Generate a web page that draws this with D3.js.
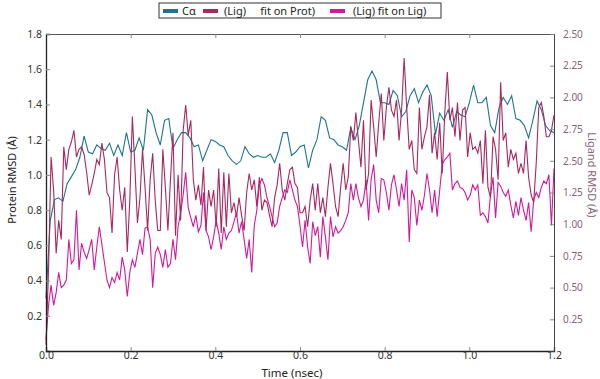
<!DOCTYPE html>
<html>
<head>
<meta charset="utf-8">
<title>RMSD</title>
<script src="https://cdn.jsdelivr.net/npm/d3@7"></script>
<style>
  body { margin: 0; background: #fff; }
  text { font-family: "Noto Sans", "Open Sans", sans-serif; }
</style>
</head>
<body>
<div id="container"></div>
<script>
// time step of each series (nsec)
const caStep = 0.01;
const ligStep = 0.006;

// Protein C-alpha RMSD (left axis)
const caRmsd = [0.30, 0.74, 0.86, 0.87, 0.85, 0.95, 0.99, 1.03, 1.10, 1.22, 1.13, 1.12, 1.17, 1.15, 1.14, 1.18, 1.11, 1.17, 1.11, 1.24,
  1.13, 1.14, 1.21, 1.14, 1.37, 1.34, 1.24, 1.17, 1.31, 1.32, 1.15, 1.20, 1.24, 1.24, 1.21, 1.16, 1.17, 1.08, 1.14, 1.20,
  1.19, 1.17, 1.16, 1.11, 1.08, 1.06, 1.08, 1.16, 1.12, 1.10, 1.11, 1.10, 1.10, 1.12, 1.07, 1.14, 1.24, 1.24, 1.11, 1.13,
  1.16, 1.17, 1.04, 1.14, 1.20, 1.33, 1.31, 1.21, 1.20, 1.17, 1.16, 1.14, 1.27, 1.20, 1.28, 1.41, 1.54, 1.59, 1.54, 1.41,
  1.41, 1.40, 1.48, 1.45, 1.33, 1.36, 1.45, 1.49, 1.41, 1.47, 1.51, 1.45, 1.23, 1.35, 1.31, 1.37, 1.27, 1.36, 1.34, 1.33,
  1.41, 1.51, 1.41, 1.41, 1.44, 1.28, 1.24, 1.38, 1.44, 1.40, 1.45, 1.32, 1.31, 1.28, 1.21, 1.31, 1.42, 1.37, 1.28, 1.25, 1.24];

// Ligand RMSD, fit on protein (right axis)
const ligFitProt = [0.05, 0.64, 1.53, 1.27, 0.77, 1.03, 0.88, 1.61, 1.43, 1.59, 1.65, 1.74, 1.53, 1.59, 1.61, 1.55, 1.41, 1.23, 1.31, 1.40,
  1.51, 1.47, 1.64, 1.51, 1.25, 1.21, 0.93, 1.39, 1.53, 1.27, 1.11, 1.29, 0.78, 1.19, 1.85, 1.45, 1.01, 1.21, 1.59, 1.29,
  0.95, 1.35, 1.56, 1.19, 0.95, 0.95, 1.59, 1.29, 0.95, 1.35, 1.72, 0.91, 1.39, 1.03, 1.74, 1.94, 1.70, 1.82, 1.35, 1.19,
  1.31, 1.15, 1.45, 0.95, 1.27, 1.14, 1.27, 0.98, 1.44, 0.93, 1.41, 0.98, 1.40, 1.09, 1.17, 1.06, 1.21, 1.07, 0.95, 1.25,
  1.40, 1.27, 1.35, 1.14, 1.37, 1.11, 1.19, 1.17, 1.07, 0.98, 1.21, 1.31, 1.48, 1.27, 1.19, 1.32, 1.43, 1.45, 1.32, 1.29,
  1.09, 1.09, 1.14, 0.98, 1.19, 1.32, 1.11, 1.32, 1.09, 1.21, 1.06, 1.29, 1.48, 1.32, 1.14, 1.06, 1.29, 1.48, 1.27, 1.37,
  1.77, 1.66, 1.88, 1.66, 1.45, 1.82, 1.27, 1.40, 1.98, 1.77, 1.53, 1.80, 2.03, 1.66, 1.92, 2.08, 1.90, 1.85, 1.98, 1.66,
  1.90, 2.31, 1.92, 1.59, 1.66, 1.43, 1.40, 1.92, 1.59, 1.69, 1.77, 2.02, 1.56, 1.72, 1.51, 1.80, 1.40, 1.88, 2.20, 1.82,
  1.92, 1.69, 1.96, 1.66, 1.90, 1.92, 1.53, 1.72, 1.59, 1.61, 1.56, 1.66, 1.32, 1.74, 1.29, 1.21, 1.69, 1.59, 1.35, 2.12,
  1.66, 1.72, 1.45, 1.59, 1.51, 1.56, 1.40, 1.48, 1.40, 1.66, 1.37, 1.23, 1.17, 1.48, 1.92, 1.96, 1.85, 1.69, 1.69, 1.74, 1.86];

// Ligand RMSD, fit on ligand (right axis)
const ligFitLig = [0.09, 0.36, 0.52, 0.36, 0.46, 0.62, 0.50, 0.52, 0.56, 0.88, 0.69, 0.72, 1.11, 0.64, 0.85, 0.78, 0.73, 0.80, 0.88, 0.64,
  0.82, 0.98, 0.84, 0.70, 0.56, 0.50, 0.58, 0.54, 0.62, 0.56, 0.74, 0.64, 0.43, 0.62, 0.72, 0.66, 0.77, 0.88, 0.76, 0.97,
  0.98, 0.88, 0.50, 0.77, 0.82, 0.76, 0.66, 0.80, 0.66, 0.69, 0.88, 0.72, 0.98, 1.09, 1.23, 1.41, 1.13, 1.05, 0.98, 1.07,
  0.94, 0.99, 1.25, 0.95, 0.90, 0.80, 0.90, 1.03, 0.93, 0.80, 0.98, 0.88, 0.93, 0.95, 1.02, 1.09, 0.93, 1.02, 0.88, 0.73,
  0.88, 0.62, 0.99, 1.11, 1.31, 1.36, 1.31, 1.21, 1.14, 1.06, 0.98, 1.01, 1.14, 1.21, 1.27, 1.25, 1.35, 1.27, 1.19, 1.14,
  0.99, 0.82, 1.03, 0.82, 0.69, 1.02, 0.91, 0.98, 0.74, 1.06, 0.90, 0.72, 1.06, 0.90, 0.98, 0.93, 0.95, 0.98, 1.03, 1.09,
  1.32, 1.19, 1.32, 1.21, 1.14, 1.19, 1.35, 1.03, 1.35, 1.47, 1.19, 1.09, 1.36, 1.35, 1.25, 1.11, 1.31, 1.39, 1.27, 1.14,
  1.32, 1.19, 1.43, 0.86, 1.27, 1.21, 0.99, 1.19, 1.11, 1.23, 1.40, 1.27, 1.09, 1.27, 1.06, 1.27, 1.47, 1.51, 1.53, 1.56,
  1.27, 1.32, 1.34, 1.29, 1.28, 1.25, 1.19, 1.23, 1.31, 1.27, 1.31, 1.07, 1.09, 1.06, 1.01, 1.23, 1.37, 1.05, 1.33, 1.30,
  1.25, 1.22, 1.27, 1.15, 1.05, 1.18, 1.07, 1.21, 1.11, 1.03, 1.17, 0.94, 1.19, 1.25, 1.21, 1.29, 1.34, 1.32, 1.39, 0.99, 1.44];

// axis ticks and labels
const timeTicks = [0.0, 0.2, 0.4, 0.6, 0.8, 1.0, 1.2];
const leftTicks = [0.2, 0.4, 0.6, 0.8, 1.0, 1.2, 1.4, 1.6, 1.8];
const rightTicks = [0.25, 0.5, 0.75, 1.0, 1.25, 1.5, 1.75, 2.0, 2.25, 2.5];
const rightTickLabels = ["0.25", "0.50", "0.75", "1.00", "1.25", "2.50", "2.75", "2.00", "2.25", "2.50"];

const seriesNames = ["C\u03b1", "(Lig)     fit on Prot)", "(Lig) fit on Lig)"];
const seriesColors = ["#1f7391", "#a8285f", "#d3199a"];

const W = 600, H = 379;
const margin = { top: 34, right: 46, bottom: 28, left: 46 };
const width = W - margin.left - margin.right;
const height = H - margin.top - margin.bottom;

const svg = d3.select("#container").append("svg")
  .attr("width", W).attr("height", H);

const g = svg.append("g")
  .attr("transform", "translate(" + margin.left + "," + margin.top + ")");

const x = d3.scaleLinear().domain([0, 1.2]).range([0, width]);
const yL = d3.scaleLinear().domain([0, 1.8]).range([height, 0]);
const yR = d3.scaleLinear().domain([0, 2.5]).range([height, 0]);

// lines
const lineL = d3.line().x(d => x(d[0])).y(d => yL(d[1]));
const lineR = d3.line().x(d => x(d[0])).y(d => yR(d[1]));

const caData = caRmsd.map((v, i) => [i * caStep, v]);
const protData = ligFitProt.map((v, i) => [i * ligStep, v]);
const ligData = ligFitLig.map((v, i) => [i * ligStep, v]);

g.append("path").datum(caData)
  .attr("fill", "none").attr("stroke", seriesColors[0]).attr("stroke-width", 1.1)
  .attr("d", lineL);
g.append("path").datum(ligData)
  .attr("fill", "none").attr("stroke", seriesColors[2]).attr("stroke-width", 1.1)
  .attr("d", lineR);
g.append("path").datum(protData)
  .attr("fill", "none").attr("stroke", seriesColors[1]).attr("stroke-width", 1.1)
  .attr("d", lineR);

// axes
const styleAxis = function (sel, color) {
  sel.selectAll("line").attr("stroke", "#888");
  sel.selectAll("text").attr("fill", color).style("font-size", "10.5px");
  sel.select(".domain").attr("stroke", "#222").attr("stroke-width", 1.3);
};

g.append("g")
  .attr("transform", "translate(0," + height + ")")
  .call(d3.axisBottom(x).tickValues(timeTicks).tickFormat(d3.format(".1f")).tickSize(-4).tickPadding(1))
  .call(s => styleAxis(s, "#333"));

g.append("g")
  .call(d3.axisTop(x).tickValues(timeTicks).tickFormat("").tickSize(-4))
  .call(s => styleAxis(s, "#333"))
  .call(s => s.select(".domain").attr("stroke", "#555").attr("stroke-width", 1));

g.append("g")
  .call(d3.axisLeft(yL).tickValues(leftTicks).tickFormat(d3.format(".1f")).tickSize(-4).tickPadding(4))
  .call(s => styleAxis(s, "#333"));

g.append("g")
  .attr("transform", "translate(" + width + ",0)")
  .call(d3.axisRight(yR).tickValues(rightTicks).tickFormat((d, i) => rightTickLabels[i]).tickSize(-4).tickPadding(9))
  .call(s => styleAxis(s, "#8a5f7e"))
  .call(s => s.selectAll(".tick text").style("font-size", "10px"))
  .call(s => s.select(".domain").attr("stroke", "#444").attr("stroke-width", 1));

// axis titles
svg.append("text")
  .attr("x", margin.left + x(0.6) - 8).attr("y", 377)
  .attr("text-anchor", "middle")
  .style("font-size", "11.5px").attr("fill", "#222")
  .text("Time (nsec)");

svg.append("text")
  .attr("transform", "translate(16,180) rotate(-90)")
  .attr("text-anchor", "middle")
  .style("font-size", "11px").attr("fill", "#222")
  .text("Protein RMSD (\u00c5)");

svg.append("text")
  .attr("transform", "translate(588,175) rotate(90)")
  .attr("text-anchor", "middle")
  .style("font-size", "11px").attr("fill", "#8a5f7e")
  .text("Ligand RMSD (\u00c5)");

// legend
const legend = svg.append("g").attr("transform", "translate(159,3)");
legend.append("rect")
  .attr("width", 282).attr("height", 15)
  .attr("fill", "#fff").attr("stroke", "#333").attr("stroke-width", 1);

const legendX = [4, 44, 171];
const legendTextX = [23, 65, 194];
seriesNames.forEach((name, i) => {
  legend.append("rect")
    .attr("x", legendX[i]).attr("y", 6)
    .attr("width", 15).attr("height", 4)
    .attr("fill", seriesColors[i]);
  legend.append("text")
    .attr("x", legendTextX[i]).attr("y", 12)
    .style("font-size", "11px").attr("fill", "#222")
    .style("white-space", "pre")
    .text(name);
});
</script>
</body>
</html>
